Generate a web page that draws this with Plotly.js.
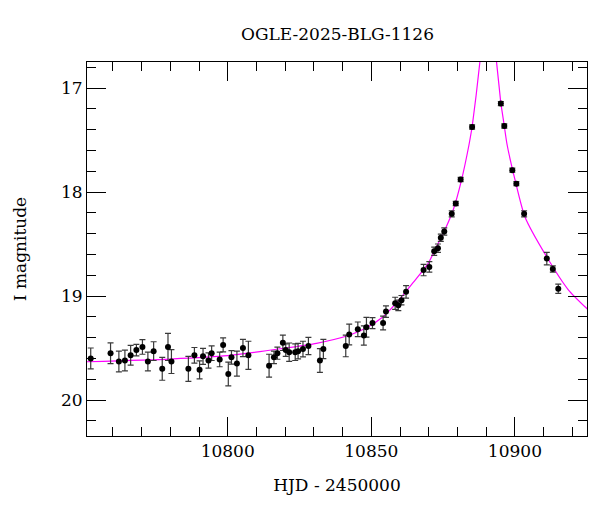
<!DOCTYPE html>
<html>
<head>
<meta charset="utf-8">
<script src="https://cdn.plot.ly/plotly-3.0.1.min.js"></script>
<style>html,body{margin:0;padding:0;background:#fff;}#chart{width:600px;height:512px;}</style>
</head>
<body>
<div id="chart"></div>
<script>
// Observations (HJD - 2450000, I magnitude, error)
const obsTime = [10752.3,10759.2,10762.1,10764.2,10766.2,10768.2,10770.3,10772.2,10774.2,10777.2,10779.2,10780.4,10786.3,10788.4,10790.2,10791.4,10793.3,10794.4,10797.2,10798.4,10800.2,10801.3,10803.2,10805.3,10807.2,10814.4,10816.1,10817.3,10819.2,10820.2,10821.4,10823.5,10824.5,10826.2,10828.1,10832.1,10833.3,10841.1,10842.3,10845.3,10847.4,10848.3,10850.4,10854.1,10855.1,10858.3,10859.4,10860.5,10862.1,10868.2,10870.2,10871.9,10873.2,10874.2,10875.4,10878.0,10879.4,10881.1,10885.1,10895.1,10896.3,10899.1,10900.5,10903.2,10911.1,10913.2,10915.1];
const obsMag = [19.60,19.55,19.63,19.62,19.57,19.52,19.49,19.63,19.53,19.70,19.49,19.63,19.70,19.57,19.71,19.58,19.62,19.55,19.61,19.47,19.75,19.59,19.65,19.50,19.57,19.67,19.59,19.55,19.45,19.52,19.54,19.54,19.53,19.51,19.48,19.62,19.51,19.48,19.37,19.32,19.38,19.30,19.26,19.26,19.15,19.07,19.09,19.04,18.96,18.75,18.72,18.57,18.54,18.44,18.38,18.21,18.11,17.88,17.375,17.15,17.365,17.79,17.92,18.21,18.64,18.74,18.93];
const obsErr = [0.10,0.10,0.10,0.10,0.095,0.055,0.07,0.09,0.09,0.11,0.13,0.115,0.12,0.075,0.087,0.077,0.074,0.07,0.07,0.067,0.114,0.064,0.12,0.083,0.135,0.11,0.06,0.058,0.074,0.06,0.088,0.08,0.075,0.075,0.083,0.114,0.093,0.104,0.10,0.07,0.093,0.095,0.053,0.066,0.056,0.058,0.05,0.045,0.06,0.055,0.05,0.04,0.04,0.035,0.035,0.03,0.02,0.02,0.02,0.02,0.02,0.02,0.02,0.03,0.06,0.03,0.045];

// Model curve: rising branch and falling branch (peak is off the top)
const modelRiseTime = [10750.9,10780.0,10800.0,10819.3,10830.9,10842.5,10848.3,10854.1,10859.9,10864.6,10869.8,10872.7,10875.6,10878.5,10881.4,10884.0,10885.1,10886.5,10887.8,10888.3];
const modelRiseMag  = [19.632,19.606,19.574,19.503,19.455,19.375,19.305,19.199,19.03,18.87,18.686,18.526,18.365,18.173,17.885,17.548,17.375,17.07,16.75,16.58];
const modelFallTime = [10893.1,10893.6,10894.4,10895.1,10896.3,10897.3,10900.3,10903.5,10911.0,10918.6,10925.4];
const modelFallMag  = [16.58,16.75,16.96,17.147,17.365,17.548,17.913,18.24,18.62,18.94,19.13];

const xRange = [10751, 10925.1];
const yRange = [20.346, 16.75];

const FONT = 'DejaVu Serif, Liberation Serif, serif';
const smoothLine = {color: '#ff00ff', width: 1.2, shape: 'spline', smoothing: 0.6, simplify: false};
const steepLine = {color: '#ff00ff', width: 1.2, shape: 'linear', simplify: false};

// steep parts near the peak are drawn as straight joins, the rest smoothed
const riseSplit = 16, fallSplit = 4;
function seg(xs, ys, a, b, line) {
  return {x: xs.slice(a, b), y: ys.slice(a, b), type: 'scatter', mode: 'lines', line: line, hoverinfo: 'skip', showlegend: false};
}

const traces = [
  seg(modelRiseTime, modelRiseMag, 0, riseSplit + 1, smoothLine),
  seg(modelRiseTime, modelRiseMag, riseSplit, modelRiseTime.length, steepLine),
  seg(modelFallTime, modelFallMag, 0, fallSplit + 1, steepLine),
  seg(modelFallTime, modelFallMag, fallSplit, modelFallTime.length, smoothLine),
  {
    x: obsTime, y: obsMag, type: 'scatter', mode: 'markers',
    marker: {color: '#000', size: 6},
    error_y: {type: 'data', array: obsErr, visible: true, color: '#3a3a3a', thickness: 1.2, width: 3},
    showlegend: false
  },
  {
    x: [xRange[0]], y: [yRange[0]], xaxis: 'x2', yaxis: 'y2', type: 'scatter', mode: 'markers',
    marker: {opacity: 0}, hoverinfo: 'skip', showlegend: false
  }
];

const tickCommon = {
  showgrid: false, zeroline: false, showline: true, linecolor: '#000', linewidth: 1,
  ticks: 'inside', ticklen: 19, tickwidth: 1, tickcolor: '#000',
  tickfont: {family: FONT, size: 17, color: '#000'}
};
const xMinor = {dtick: 10, ticks: 'inside', ticklen: 9, tickcolor: '#000', tickwidth: 1};
const yMinor = {dtick: 0.2, ticks: 'inside', ticklen: 9, tickcolor: '#000', tickwidth: 1};

const layout = {
  width: 600, height: 512,
  margin: {l: 87, r: 13, t: 62, b: 76},
  paper_bgcolor: '#fff', plot_bgcolor: '#fff',
  title: {text: 'OGLE-2025-BLG-1126', font: {family: FONT, size: 17, color: '#000'}, x: 0.5625, xanchor: 'center', y: 0.933, yanchor: 'middle'},
  xaxis: Object.assign({}, tickCommon, {
    range: xRange, dtick: 50, tick0: 10800, tickformat: 'd', minor: xMinor,
    title: {text: 'HJD - 2450000', font: {family: FONT, size: 17, color: '#000'}, standoff: 18}
  }),
  yaxis: Object.assign({}, tickCommon, {
    range: yRange, dtick: 1, tick0: 17, minor: yMinor,
    title: {text: 'I magnitude', font: {family: FONT, size: 17, color: '#000'}, standoff: 30}
  }),
  xaxis2: Object.assign({}, tickCommon, {
    range: xRange, dtick: 50, tick0: 10800, minor: xMinor, overlaying: 'x', side: 'top',
    anchor: 'y', showticklabels: false
  }),
  yaxis2: Object.assign({}, tickCommon, {
    range: yRange, dtick: 1, tick0: 17, minor: yMinor, overlaying: 'y', side: 'right',
    anchor: 'x', showticklabels: false
  })
};

Plotly.newPlot('chart', traces, layout, {displayModeBar: false, staticPlot: true});
</script>
</body>
</html>
